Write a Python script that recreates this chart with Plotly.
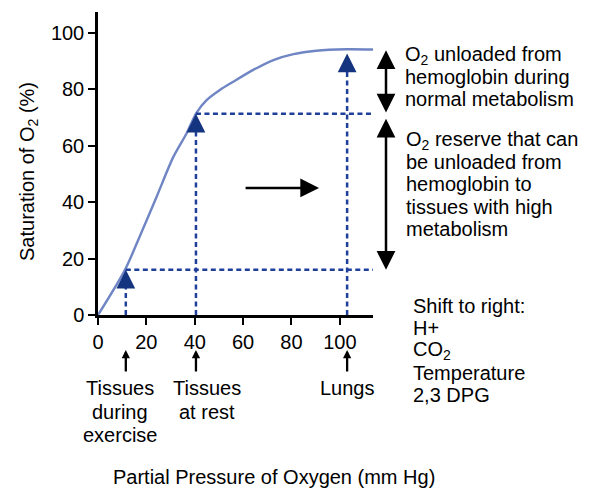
import plotly.graph_objects as go

# ---------------- data ----------------
po2_curve = [0, 11.1, 17.2, 24.2, 31.1, 36.6, 40.7, 44.9, 50.4, 55.9, 64.2, 72.5, 80.8, 90.2, 102.6, 115]
sat_curve = [0, 15.9, 27.7, 41.8, 55.9, 64.3, 71.6, 76.1, 79.7, 82.6, 86.8, 90.3, 92.4, 93.6, 94.1, 94.0]

site_names = ["Tissues during exercise", "Tissues at rest", "Lungs"]
site_label_lines = [["Tissues", "during", "exercise"], ["Tissues", "at rest"], ["Lungs"]]
site_po2 = [11.5, 40.5, 103]
site_sat = [16, 71.3, 92.6]

x_ticks = [0, 20, 40, 60, 80, 100]
y_ticks = [0, 20, 40, 60, 80, 100]

normal_unload = [94.3, 71.7]      # range of O2 unloaded in normal metabolism
reserve_unload = [70.0, 16.0]     # O2 reserve range
shift_arrow_po2 = [60.4, 91.4]
shift_arrow_sat = 45.0

block1 = ["O<sub>2</sub> unloaded from", "hemoglobin during", "normal metabolism"]
block2 = ["O<sub>2</sub> reserve that can", "be unloaded from", "hemoglobin to",
          "tissues with high", "metabolism"]
block3 = ["Shift to right:", "H+", "CO<sub>2</sub>", "Temperature", "2,3 DPG"]

# ---------------- layout geometry ----------------
W, H = 603, 490
OFF = 8                      # page body margin of the html
ML, MR, MT, MB = 90, 238, 4, 183
XR = [0, 113.7]
YR = [0, 107.3]
pw = W - ML - MR
ph = H - MT - MB


def fx(px):
    """screen px -> paper x"""
    return (px - OFF - ML) / pw


def fy(py):
    """screen py -> paper y"""
    return (H - MB - (py - OFF)) / ph


def dy(v):
    """data y -> paper y"""
    return (v - YR[0]) / (YR[1] - YR[0])


def ppy(v):
    """data units of y -> pixels"""
    return v / (YR[1] - YR[0]) * ph


FONT = "Liberation Sans, Arial, Helvetica, sans-serif"
TXT = dict(family=FONT, size=20, color="black")
CURVE_COL = "#7085c4"
DASH_COL = "#1f3f9a"
HEAD_COL = "#15347f"

fig = go.Figure()

# oxygen dissociation curve
fig.add_trace(go.Scatter(x=po2_curve, y=sat_curve, mode="lines",
                         line=dict(color=CURVE_COL, width=2.4, shape="spline", smoothing=0.8),
                         cliponaxis=False, hoverinfo="skip", showlegend=False))

# dashed guide lines
dash_style = dict(color=DASH_COL, width=2.5, dash="5px,3.5px")
x_end = po2_curve[-1]
for i in (0, 1):
    fig.add_trace(go.Scatter(x=[site_po2[i], x_end], y=[site_sat[i], site_sat[i]], mode="lines",
                             line=dash_style, cliponaxis=False, hoverinfo="skip", showlegend=False))
for i in range(3):
    fig.add_trace(go.Scatter(x=[site_po2[i], site_po2[i]], y=[0, site_sat[i] - 5], mode="lines",
                             line=dash_style, cliponaxis=False, hoverinfo="skip", showlegend=False))

ann = []
# blue arrowheads
for i in range(3):
    ann.append(dict(x=site_po2[i], y=site_sat[i], ax=0, ay=18,
                    xref="x", yref="y", axref="pixel", ayref="pixel", showarrow=True, text="",
                    arrowhead=2, arrowsize=1.5, arrowwidth=2.5, arrowcolor=HEAD_COL,
                    standoff=0, startstandoff=0))

# double arrows at right
for rng in (normal_unload, reserve_unload):
    ann.append(dict(x=fx(386), y=dy(rng[1]), ax=0, ay=-ppy(rng[0] - rng[1]),
                    xref="paper", yref="paper", axref="pixel", ayref="pixel",
                    showarrow=True, text="", arrowhead=2, startarrowhead=2, arrowside="end+start",
                    arrowsize=1.5, startarrowsize=1.5, arrowwidth=2.5, arrowcolor="black",
                    standoff=0, startstandoff=0))

# shift arrow
ann.append(dict(x=shift_arrow_po2[1], y=shift_arrow_sat, ax=shift_arrow_po2[0], ay=shift_arrow_sat,
                xref="x", yref="y", axref="x", ayref="y", showarrow=True, text="",
                arrowhead=2, arrowsize=1.5, arrowwidth=2.5, arrowcolor="black", standoff=0))

# small arrows under axis
for i in range(3):
    ann.append(dict(x=site_po2[i], y=fy(350), ax=0, ay=23,
                    xref="x", yref="paper", axref="pixel", ayref="pixel", showarrow=True, text="",
                    arrowhead=2, arrowsize=0.72, arrowwidth=2.3, arrowcolor="black", standoff=0))

# bottom labels
label_cx = [119.5, 206.7, 347.5]
for lines, cx in zip(site_label_lines, label_cx):
    for j, t in enumerate(lines):
        ann.append(dict(x=fx(cx), y=fy(388 + j * 23.5), xref="paper", yref="paper", text=t,
                        showarrow=False, xanchor="center", yanchor="middle", font=TXT))

# right text blocks
for block, x0, y0 in ((block1, 403, 55), (block2, 404, 140), (block3, 411, 306)):
    for j, t in enumerate(block):
        ann.append(dict(x=fx(x0), y=fy(y0 + j * 22.2), xref="paper", yref="paper", text=t,
                        showarrow=False, xanchor="left", yanchor="middle", font=TXT))

# axis titles
ann.append(dict(x=fx(111), y=fy(477), xref="paper", yref="paper",
                text="Partial Pressure of Oxygen (mm Hg)", showarrow=False,
                xanchor="left", yanchor="middle", font=TXT))
ann.append(dict(x=fx(29), y=fy(172), xref="paper", yref="paper",
                text="Saturation of O<sub>2</sub> (%)", showarrow=False, textangle=-90,
                xanchor="center", yanchor="middle", font=TXT))

axis_common = dict(showgrid=False, zeroline=False, showline=True, linecolor="black", linewidth=2.5,
                   ticks="outside", ticklen=7, tickwidth=2, tickcolor="black",
                   tickfont=dict(family=FONT, size=20, color="black"), fixedrange=True)

fig.update_layout(
    width=W, height=H,
    margin=dict(l=ML, r=MR, t=MT, b=MB, pad=0),
    paper_bgcolor="white", plot_bgcolor="white",
    xaxis=dict(range=XR, tickvals=x_ticks, **axis_common),
    yaxis=dict(range=YR, tickvals=y_ticks, **axis_common),
    annotations=ann,
    showlegend=False,
)

fig.write_html("out.html")
